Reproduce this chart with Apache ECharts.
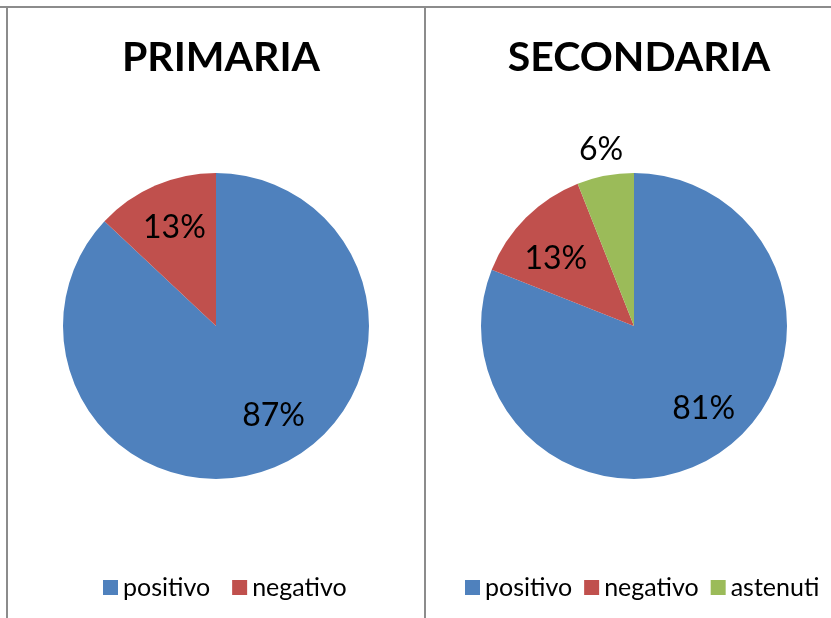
<!DOCTYPE html>
<html lang="en">
<head>
    <meta charset="UTF-8">
    <title>Primaria / Secondaria</title>
    <script src="https://cdn.jsdelivr.net/npm/echarts@6/dist/echarts.min.js"></script>
    <style>
        html, body { margin: 0; padding: 0; background: #fff; }
        #main { width: 831px; height: 618px; }
    </style>
</head>
<body>
<div id="main"></div>
<script>
// dati
var categorie = ['positivo', 'negativo', 'astenuti'];
var primaria = [87, 13];
var secondaria = [81, 13, 6];
var colori = ['#4F81BD', '#C0504D', '#9BBB59'];

// spostamento etichette (come in Excel)
var spostPrimaria = [[26, 17], [-10, -25]];
var spostSecondaria = [[25, 17], [-22, -11], [-18, -98]];

function dati(valori) {
    return valori.map(function (v, i) {
        return { name: categorie[i], value: v, itemStyle: { color: colori[i] } };
    });
}

var myChart = echarts.init(document.getElementById('main'));
var font = 'Lato, "Open Sans", sans-serif';

function serie(valori, centro, spost) {
    return {
        type: 'pie',
        center: centro,
        radius: 153,
        startAngle: 90,
        clockwise: true,
        animation: false,
        data: dati(valori),
        label: {
            show: true,
            position: 'inside',
            formatter: '{d}%',
            color: '#000',
            fontFamily: font,
            fontSize: 32
        },
        labelLine: { show: false },
        labelLayout: function (p) {
            var s = spost[p.dataIndex];
            return { dx: s[0], dy: s[1] };
        },
        emphasis: { disabled: true }
    };
}

myChart.setOption({
    animation: false,
    title: [
        { text: 'PRIMARIA', left: 216, top: 32, textAlign: 'center',
          textStyle: { fontFamily: font, fontWeight: 'bold', fontSize: 41, color: '#000' } },
        { text: 'SECONDARIA', left: 634, top: 32, textAlign: 'center',
          textStyle: { fontFamily: font, fontWeight: 'bold', fontSize: 41, color: '#000' } }
    ],
    legend: [
        { data: categorie.slice(0, 2), left: 98, top: 570, icon: 'rect', itemWidth: 15, itemHeight: 15,
          itemGap: 22, textStyle: { fontFamily: font, fontSize: 25, color: '#000' }, selectedMode: false },
        { data: categorie, left: 460, top: 570, icon: 'rect', itemWidth: 15, itemHeight: 15,
          itemGap: 12, textStyle: { fontFamily: font, fontSize: 25, color: '#000' }, selectedMode: false }
    ],
    graphic: [
        { type: 'line', shape: { x1: 0, y1: 7, x2: 831, y2: 7 }, style: { stroke: '#8c8c8c', lineWidth: 2 } },
        { type: 'line', shape: { x1: 7, y1: 7, x2: 7, y2: 618 }, style: { stroke: '#8c8c8c', lineWidth: 2 } },
        { type: 'line', shape: { x1: 425, y1: 7, x2: 425, y2: 618 }, style: { stroke: '#8c8c8c', lineWidth: 2 } }
    ],
    series: [
        serie(primaria, [216, 326], spostPrimaria),
        serie(secondaria, [634, 326], spostSecondaria)
    ]
});
</script>
</body>
</html>
